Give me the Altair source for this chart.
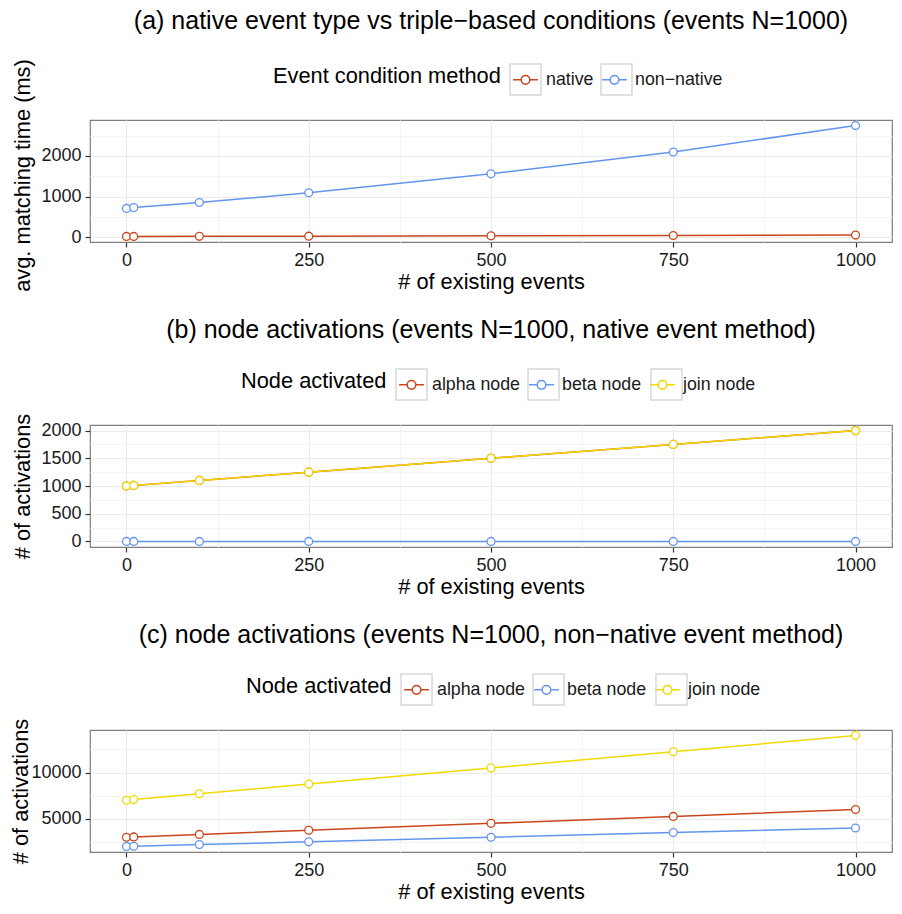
import altair as alt
import pandas as pd

# ---- data ----
events = [0, 10, 100, 250, 500, 750, 1000]

a_series = ["native", "non\u2212native"]
a_native = [22, 22, 25, 29, 37, 46, 56]
a_nonnative = [710, 730, 855, 1095, 1560, 2095, 2745]

b_series = ["alpha node", "beta node", "join node"]
b_alpha = [1000, 1010, 1100, 1250, 1500, 1750, 2000]
b_beta = [0, 0, 0, 0, 0, 0, 0]
b_join = [1000, 1010, 1100, 1250, 1500, 1750, 2000]

c_series = ["alpha node", "beta node", "join node"]
c_alpha = [3000, 3030, 3300, 3750, 4500, 5250, 6000]
c_beta = [2000, 2020, 2200, 2500, 3000, 3500, 4000]
c_join = [7000, 7070, 7700, 8750, 10500, 12250, 14000]

x_ticks = [0, 250, 500, 750, 1000]
x_minor = [125, 375, 625, 875]
a_yticks = [0, 1000, 2000]
a_yminor = [500, 1500, 2500]
b_yticks = [0, 500, 1000, 1500, 2000]
b_yminor = [250, 750, 1250, 1750]
c_yticks = [5000, 10000]
c_yminor = [2500, 7500, 12500]

colors2 = ["#C9461C", "#6495ED"]
colors3 = ["#C9461C", "#6495ED", "#F2D900"]

KEY_PATH = ("M-0.8,0L-0.28,0M0.28,0L0.8,0"
            "M0.28,0A0.28,0.28,0,1,1,-0.28,0A0.28,0.28,0,1,1,0.28,0Z")

W, H = 802, 122


def expand(vals):
    lo, hi = min(vals), max(vals)
    pad = 0.05 * (hi - lo)
    return [lo - pad, hi + pad]


def panel(series, values, colors, title, legend_title, ytitle, yticks, yminor,
          legend_x, ytitle_pad, ytitle_y=None):
    rows = []
    for s, vals in zip(series, values):
        for x, v in zip(events, vals):
            rows.append({"x": x, "v": v, "series": s})
    df = pd.DataFrame(rows)
    xs = alt.Scale(domain=expand(events), nice=False, zero=False)
    ys = alt.Scale(domain=expand(list(df["v"])), nice=False, zero=False)

    common = dict(title=legend_title, orient="none", legendX=legend_x, legendY=-57,
                  direction="horizontal", titleOrient="left", titleAnchor="middle",
                  titleBaseline="middle", titlePadding=8, titleFontSize=21.8,
                  titleFontWeight="normal", titleLimit=500, labelFontSize=17.8,
                  labelOffset=4, columnPadding=4, symbolSize=961,
                  symbolStrokeWidth=1.5, padding=0)
    color_legend = alt.Legend(symbolType=KEY_PATH, labelColor="#1a1a1a",
                              titleColor="#000000", **common)
    box_legend = alt.Legend(symbolType="square", symbolStrokeColor="#C8C8C8",
                            labelColor="transparent", titleColor="transparent", **common)

    color_enc = alt.Color("series:N", scale=alt.Scale(range=colors), legend=color_legend)

    x_axis = alt.Axis(values=x_ticks, title="# of existing events", orient="bottom",
                      grid=True, format="d")
    yargs = dict(values=yticks, title=ytitle, orient="left", grid=True, format="d",
                 titlePadding=ytitle_pad)
    if ytitle_y is not None:
        yargs["titleY"] = ytitle_y
    y_axis = alt.Axis(**yargs)

    base = alt.Chart(df)
    line = base.mark_line(strokeWidth=1.5).encode(
        x=alt.X("x:Q", scale=xs, axis=x_axis),
        y=alt.Y("v:Q", scale=ys, axis=y_axis),
        color=color_enc,
    )
    pts = base.mark_point(filled=False, fill="white", size=62, strokeWidth=1.3,
                          opacity=1).encode(
        x=alt.X("x:Q", scale=xs, axis=None),
        y=alt.Y("v:Q", scale=ys, axis=None),
        color=color_enc,
    )
    box = base.transform_filter("false").mark_point(color="#C8C8C8").encode(
        x=alt.X("x:Q", scale=xs,
                axis=alt.Axis(values=x_minor, grid=True, gridColor="#F4F4F4",
                              gridWidth=1, labels=False, ticks=False, domain=False,
                              title=None, orient="bottom", minExtent=0, maxExtent=0)),
        y=alt.Y("v:Q", scale=ys,
                axis=alt.Axis(values=yminor, grid=True, gridColor="#F4F4F4",
                              gridWidth=1, labels=False, ticks=False, domain=False,
                              title=None, orient="left", minExtent=0, maxExtent=0)),
        shape=alt.Shape("series:N",
                        scale=alt.Scale(domain=series, range=["square"] * len(series)),
                        legend=box_legend),
    )
    return alt.layer(line, pts, box).resolve_axis(
        x="independent", y="independent"
    ).properties(width=W, height=H, title=alt.TitleParams(text=title))


pa = panel(a_series, [a_native, a_nonnative], colors2,
           "(a) native event type vs triple\u2212based conditions (events N=1000)",
           "Event condition method", "avg. matching time (ms)", a_yticks, a_yminor,
           183, 6, 55)
pb = panel(b_series, [b_alpha, b_beta, b_join], colors3,
           "(b) node activations (events N=1000, native event method)",
           "Node activated", "# of activations", b_yticks, b_yminor, 151, 6)
pc = panel(c_series, [c_alpha, c_beta, c_join], colors3,
           "(c) node activations (events N=1000, non\u2212native event method)",
           "Node activated", "# of activations", c_yticks, c_yminor, 156, -2)

chart = alt.concat(pa, pb, pc, columns=1, spacing=23, align="none").resolve_scale(
    x="independent", y="independent", color="independent", shape="independent"
).resolve_legend(color="independent", shape="independent").properties(
    padding={"left": 2, "top": 0, "right": 1, "bottom": 0},
    background="white",
).configure(font="Liberation Sans").configure_view(
    stroke="#7F7F7F", strokeWidth=1.2
).configure_axis(
    labelFontSize=18, labelColor="#1a1a1a", titleFontSize=21.8, titleFontWeight="normal",
    titleColor="#000000", tickColor="#333333", tickSize=5, tickWidth=1.2, domain=False,
    gridColor="#EBEBEB", gridWidth=1.2
).configure_axisX(labelPadding=4, titlePadding=2).configure_axisY(
    labelPadding=4
).configure_title(
    fontSize=25, fontWeight="normal", anchor="middle", frame="group", offset=25,
    color="#000000"
)

chart.save("out.html", embed_options={"renderer": "svg", "actions": False})
